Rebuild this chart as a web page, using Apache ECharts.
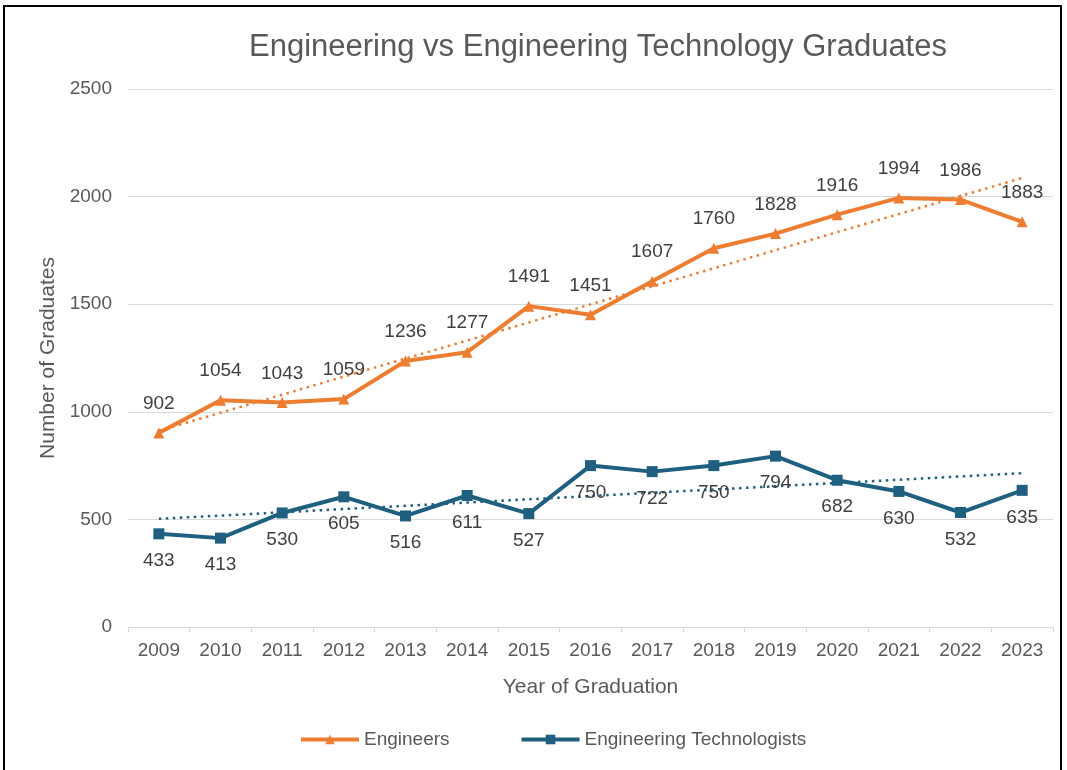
<!DOCTYPE html>
<html>
<head>
<meta charset="utf-8">
<script src="https://cdn.jsdelivr.net/npm/echarts@6/dist/echarts.min.js"></script>
<style>html,body{margin:0;padding:0;background:#fff}#c{width:1067px;height:770px}</style>
</head>
<body>
<div id="c"></div>
<script>
const years = ['2009','2010','2011','2012','2013','2014','2015','2016','2017','2018','2019','2020','2021','2022','2023'];
const engineers = [902,1054,1043,1059,1236,1277,1491,1451,1607,1760,1828,1916,1994,1986,1883];
const technologists = [433,413,530,605,516,611,527,750,722,750,794,682,630,532,635];

function linearTrend(vals){
  const n = vals.length;
  let sx=0, sy=0, sxy=0, sxx=0;
  vals.forEach((v,i)=>{sx+=i; sy+=v; sxy+=i*v; sxx+=i*i;});
  const b = (n*sxy - sx*sy)/(n*sxx - sx*sx);
  const a = (sy - b*sx)/n;
  return vals.map((v,i)=>a+b*i);
}

const ORANGE = '#ED7D31';
const BLUE = '#1F5F7F';
const FONT = '"Liberation Sans", Arial, sans-serif';
const chart = echarts.init(document.getElementById('c'));
chart.setOption({
  animation: false,
  textStyle: {fontFamily: FONT},
  graphic: [{
    type: 'rect', silent: true, z: -1,
    shape: {x: 4, y: 6, width: 1057, height: 790},
    style: {fill: 'none', stroke: '#000', lineWidth: 2}
  }],
  title: {
    text: 'Engineering vs Engineering Technology Graduates',
    left: 593, top: 27, textAlign: 'center',
    textStyle: {fontSize: 31, fontWeight: 'normal', color: '#595959', fontFamily: FONT}
  },
  grid: {left: 128, right: 14, top: 89, bottom: 143},
  legend: {
    data: ['Engineers', 'Engineering Technologists'],
    left: 294, top: 725,
    itemWidth: 58, itemHeight: 12, itemGap: 70,
    lineStyle: {width: 4},
    textStyle: {fontSize: 19, color: '#595959', fontFamily: FONT}
  },
  xAxis: {
    type: 'category', data: years, boundaryGap: true,
    name: 'Year of Graduation', nameLocation: 'middle', nameGap: 50,
    nameTextStyle: {fontSize: 21, color: '#595959'},
    axisLine: {lineStyle: {color: '#D9D9D9', width: 1}},
    axisTick: {show: true, length: 5, lineStyle: {color: '#D9D9D9'}},
    axisLabel: {fontSize: 19, color: '#595959', margin: 14}
  },
  yAxis: {
    type: 'value', min: 0, max: 2500, interval: 500,
    name: 'Number of Graduates', nameLocation: 'middle', nameGap: 68, nameRotate: 90,
    nameTextStyle: {fontSize: 21, color: '#595959'},
    axisLine: {show: false}, axisTick: {show: false},
    axisLabel: {fontSize: 19, color: '#595959', margin: 16, formatter: v => String(v)},
    splitLine: {lineStyle: {color: '#D9D9D9', width: 1}}
  },
  series: [
    {
      name: 'Engineers', type: 'line', data: engineers,
      symbol: 'triangle', symbolSize: 11,
      lineStyle: {color: ORANGE, width: 4},
      itemStyle: {color: ORANGE},
      label: {show: true, position: 'top', distance: 14, fontSize: 19, color: '#404040'},
      z: 3
    },
    {
      name: 'Engineering Technologists', type: 'line', data: technologists,
      symbol: 'rect', symbolSize: 11,
      lineStyle: {color: BLUE, width: 4},
      itemStyle: {color: BLUE},
      label: {show: true, position: 'bottom', distance: 12, fontSize: 19, color: '#404040'},
      z: 3
    },
    {
      name: 'Engineers trend', type: 'line', data: linearTrend(engineers),
      symbol: 'none', silent: true,
      lineStyle: {color: ORANGE, width: 2.5, type: [2.5, 4.5]},
      z: 2
    },
    {
      name: 'Technologists trend', type: 'line', data: linearTrend(technologists),
      symbol: 'none', silent: true,
      lineStyle: {color: BLUE, width: 2.5, type: [2.5, 4.5]},
      z: 2
    }
  ]
});
</script>
</body>
</html>
